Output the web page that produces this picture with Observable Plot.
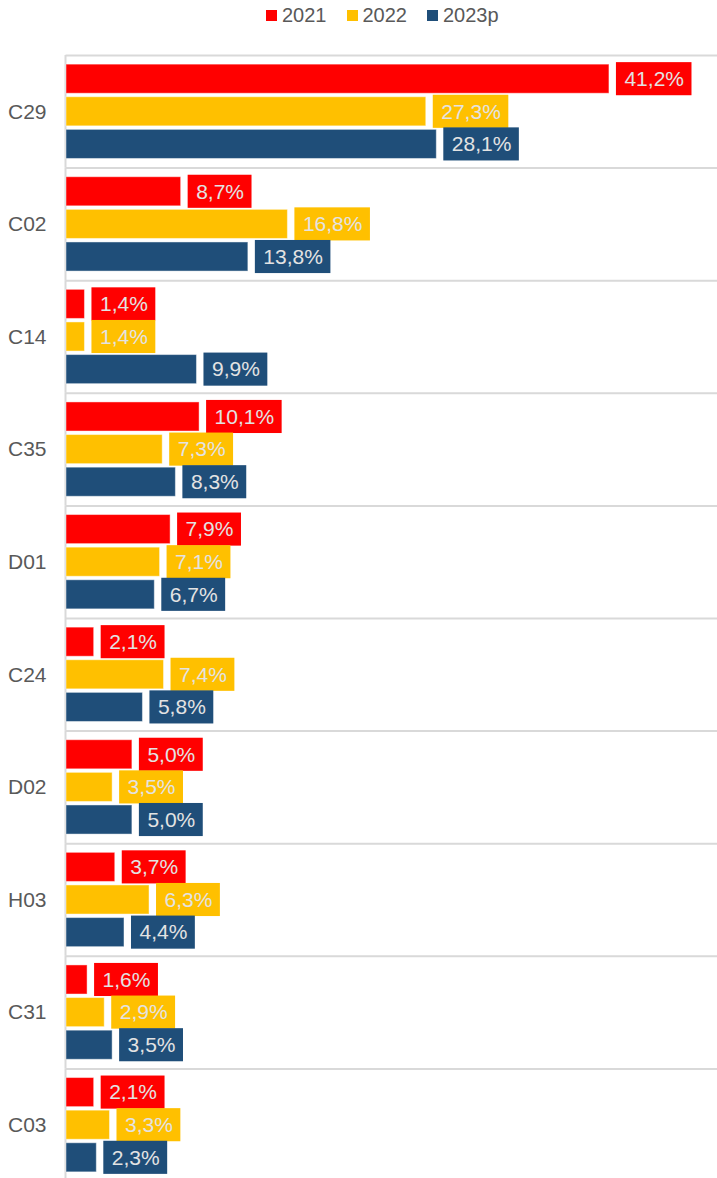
<!DOCTYPE html>
<html><head><meta charset="utf-8">
<script src="https://cdn.jsdelivr.net/npm/d3@7"></script>
<script src="https://cdn.jsdelivr.net/npm/@observablehq/plot@0.6"></script>
<style>
html,body{margin:0;padding:0;background:#fff;overflow:hidden;}
#legend{height:30px;display:flex;align-items:center;padding-left:266px;font:20px "Liberation Sans",Arial,sans-serif;color:#595959;box-sizing:border-box;}
.item{display:flex;align-items:center;margin-right:20px}
.sw{width:11px;height:11px;margin-right:5px}
</style></head><body>
<div id="legend"></div><div id="chart"></div>
<script>
const categories = ["C29","C02","C14","C35","D01","C24","D02","H03","C31","C03"];
const series = ["2021","2022","2023p"];
const colors = ["#FF0000","#FFC000","#1F4E79"];
const values2021 = [41.2,8.7,1.4,10.1,7.9,2.1,5.0,3.7,1.6,2.1];
const values2022 = [27.3,16.8,1.4,7.3,7.1,7.4,3.5,6.3,2.9,3.3];
const values2023p = [28.1,13.8,9.9,8.3,6.7,5.8,5.0,4.4,3.5,2.3];

const seriesValues = [values2021, values2022, values2023p];
const fmt = v => d3.format(".1f")(v).replace(".", ",") + "%";
const data = [];
categories.forEach((c, i) => {
  series.forEach((s, j) => {
    data.push({category: c, series: s, value: seriesValues[j][i], label: fmt(seriesValues[j][i])});
  });
});

// legend
const legend = document.getElementById("legend");
series.forEach((s, j) => {
  const it = document.createElement("div"); it.className = "item";
  const sw = document.createElement("div"); sw.className = "sw"; sw.style.background = colors[j];
  const tx = document.createElement("span"); tx.textContent = s;
  it.appendChild(sw); it.appendChild(tx); legend.appendChild(it);
});

// measure label widths
const FONT = "21px 'Liberation Sans', Arial, sans-serif";
const ctx = document.createElement("canvas").getContext("2d");
ctx.font = FONT;
const groups = d3.groups(data, d => d.label.length);
const gap = 7, pad = 8;
const boxMarks = groups.map(([len, rows]) => {
  const w = ctx.measureText(rows[0].label).width;
  return Plot.barX(rows, {
    x1: "value", x2: "value", y: "series", fy: "category", fill: "series",
    insetLeft: gap, insetRight: -(gap + w + 2 * pad), insetTop: -2, insetBottom: -2
  });
});

const chart = Plot.plot({
  width: 717, height: 1155,
  marginTop: 25, marginBottom: 4, marginLeft: 66, marginRight: 0,
  x: {domain: [0, 49.4], axis: null},
  y: {domain: series, axis: null, paddingInner: 0.108, paddingOuter: 0.28, round: false},
  fy: {domain: categories, padding: 0, round: false, label: null, axis: "left", tickSize: 0, tickPadding: 20},
  color: {domain: series, range: colors},
  style: {fontFamily: "'Liberation Sans', Arial, sans-serif", fontSize: "21px", color: "#595959", background: "#fff"},
  marks: [
    Plot.frame({anchor: "top", stroke: "#d9d9d9", strokeWidth: 2}),
    Plot.ruleX([0], {stroke: "#d9d9d9", strokeWidth: 2, dx: -1}),
    Plot.barX(data, {x: "value", y: "series", fy: "category", fill: "series", stroke: "white", strokeOpacity: 0.45, strokeWidth: 1}),
    ...boxMarks,
    Plot.text(data, {x: "value", y: "series", fy: "category", text: "label", textAnchor: "start", dx: gap + pad, fill: "#e3e3e3", fontSize: 21})
  ]
});
document.getElementById("chart").appendChild(chart);
</script>
</body></html>
